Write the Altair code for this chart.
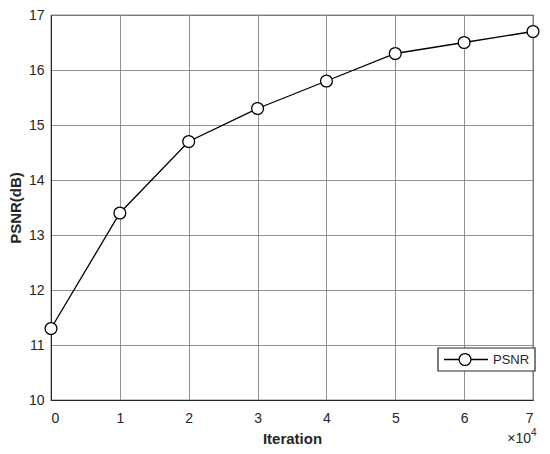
import altair as alt
import pandas as pd

iterations = [0, 1, 2, 3, 4, 5, 6, 7]
psnr = [11.3, 13.4, 14.7, 15.3, 15.8, 16.3, 16.5, 16.7]
series_name = "PSNR"

df = pd.DataFrame({"iter": iterations, "psnr": psnr})

FONT = "Liberation Sans"
AX = "#262626"

x = alt.X("iter:Q", title="Iteration",
          scale=alt.Scale(domain=[0, 7], nice=False, zero=False),
          axis=alt.Axis(values=list(range(8)), format="d", grid=True))
y = alt.Y("psnr:Q", title="PSNR(dB)",
          scale=alt.Scale(domain=[10, 17], nice=False, zero=False),
          axis=alt.Axis(values=list(range(10, 18)), format="d", grid=True))

base = alt.Chart(df)
line = base.mark_line(color="black", strokeWidth=1.3).encode(x=x, y=y)
points = base.mark_point(
    shape="circle", filled=True, fill="white", stroke="black",
    strokeWidth=1.3, size=140, opacity=1
).encode(x=x, y=y)

# legend (drawn as decoration in pixel space)
one = pd.DataFrame({"label": [series_name]})
lg = alt.Chart(one)
lg_box = lg.mark_rect(fill="white", stroke=AX, strokeWidth=1.2).encode(
    x=alt.value(387), x2=alt.value(484), y=alt.value(333), y2=alt.value(356))
lg_line = lg.mark_rule(color="black", strokeWidth=1.3).encode(
    x=alt.value(393), x2=alt.value(437), y=alt.value(344.5))
lg_pt = lg.mark_point(shape="circle", filled=True, fill="white", stroke="black",
                      strokeWidth=1.3, size=140, opacity=1).encode(
    x=alt.value(414), y=alt.value(344.5))
lg_txt = lg.mark_text(font=FONT, fontSize=13, color=AX, align="left",
                      baseline="middle").encode(
    x=alt.value(442), y=alt.value(345), text="label:N")

times = lg.mark_text(text="×10", font=FONT, fontSize=14, color=AX,
                     align="right", baseline="middle").encode(
    x=alt.value(480), y=alt.value(424))
sup = lg.mark_text(text="4", font=FONT, fontSize=10, color=AX,
                   align="left", baseline="middle").encode(
    x=alt.value(480), y=alt.value(418))

chart = alt.layer(line, points, lg_box, lg_line, lg_pt, lg_txt, times, sup).properties(
    width=534, height=438, background="white",
    autosize=alt.AutoSizeParams(type="fit", contains="padding"),
    padding={"left": 0, "top": 0, "right": 0, "bottom": 0},
).configure_view(stroke=AX, strokeWidth=1.2).configure_axis(
    domainColor=AX, tickColor=AX, gridColor="#858585", gridOpacity=0.9,
    gridWidth=1, labelFont=FONT, labelFontSize=14, labelColor=AX,
    titleFont=FONT, titleFontSize=15, titleColor=AX, titleFontWeight="bold",
    ticks=False,
).configure_axisX(labelPadding=11, titlePadding=6).configure_axisY(
    labelPadding=7, titlePadding=5
)

chart.save("out.html", embed_options={"renderer": "svg", "actions": False})
